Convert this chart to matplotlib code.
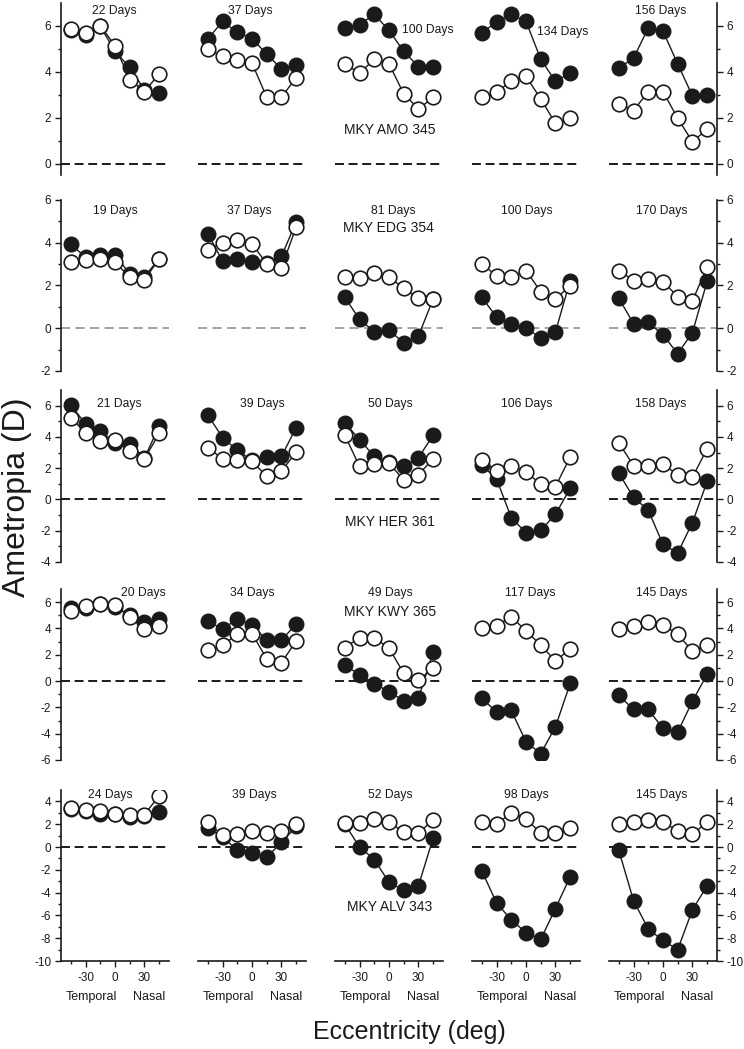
import matplotlib
matplotlib.use("Agg")
import matplotlib.pyplot as plt

plt.rcParams['font.family'] = ['Liberation Sans', 'DejaVu Sans']
plt.rcParams['axes.unicode_minus'] = False

# eccentricity of the seven measurement points (deg)
ECC = [-45, -30, -15, 0, 15, 30, 45]

# one row per monkey: age labels, open-circle and filled-circle ametropia (D)
AMO_NAME = "MKY AMO 345"
AMO_DAYS = [22, 37, 100, 134, 156]
AMO_OPEN = [
    [5.87, 5.69, 6.01, 5.14, 3.65, 3.14, 3.91],
    [4.99, 4.67, 4.53, 4.38, 2.89, 2.89, 3.75],
    [4.35, 3.94, 4.55, 4.35, 3.04, 2.38, 2.88],
    [2.89, 3.10, 3.61, 3.80, 2.82, 1.75, 1.97],
    [2.58, 2.31, 3.14, 3.14, 1.97, 0.95, 1.50],
]
AMO_FILLED = [
    [5.81, 5.62, 5.99, 4.89, 4.19, 3.21, 3.07],
    [5.43, 6.20, 5.72, 5.45, 4.77, 4.13, 4.31],
    [5.91, 6.06, 6.50, 5.81, 4.89, 4.23, 4.23],
    [5.69, 6.18, 6.50, 6.20, 4.55, 3.58, 3.94],
    [4.16, 4.60, 5.91, 5.77, 4.34, 2.95, 2.99],
]

EDG_NAME = "MKY EDG 354"
EDG_DAYS = [19, 37, 81, 100, 170]
EDG_OPEN = [
    [3.12, 3.20, 3.25, 3.09, 2.39, 2.26, 3.25],
    [3.67, 4.00, 4.11, 3.96, 3.01, 2.83, 4.74],
    [2.42, 2.35, 2.59, 2.39, 1.87, 1.41, 1.37],
    [3.00, 2.46, 2.39, 2.70, 1.71, 1.37, 1.99],
    [2.70, 2.23, 2.31, 2.18, 1.48, 1.29, 2.86],
]
EDG_FILLED = [
    [3.92, 3.33, 3.41, 3.45, 2.54, 2.42, 3.25],
    [4.43, 3.14, 3.25, 3.12, 3.05, 3.36, 4.98],
    [1.44, 0.42, -0.16, -0.09, -0.68, -0.36, 1.37],
    [1.45, 0.52, 0.22, 0.03, -0.47, -0.17, 2.23],
    [1.40, 0.22, 0.27, -0.31, -1.19, -0.20, 2.20],
]

HER_NAME = "MKY HER 361"
HER_DAYS = [21, 39, 50, 106, 158]
HER_OPEN = [
    [5.23, 4.26, 3.74, 3.83, 3.08, 2.60, 4.22],
    [3.31, 2.60, 2.54, 2.45, 1.48, 1.81, 3.03],
    [4.11, 2.11, 2.28, 2.32, 1.25, 1.59, 2.60],
    [2.50, 1.85, 2.17, 1.74, 0.99, 0.82, 2.71],
    [3.61, 2.17, 2.17, 2.24, 1.59, 1.42, 3.25],
]
HER_FILLED = [
    [6.04, 4.82, 4.37, 3.61, 3.57, 2.65, 4.69],
    [5.40, 3.96, 3.14, 2.50, 2.71, 2.75, 4.60],
    [4.90, 3.83, 2.75, 2.40, 2.11, 2.67, 4.11],
    [2.20, 1.31, -1.16, -2.13, -1.98, -0.95, 0.71],
    [1.68, 0.13, -0.69, -2.88, -3.42, -1.48, 1.16],
]

KWY_NAME = "MKY KWY 365"
KWY_DAYS = [20, 34, 49, 117, 145]
KWY_OPEN = [
    [5.29, 5.72, 5.87, 5.80, 4.86, 3.95, 4.15],
    [2.33, 2.71, 3.57, 3.60, 1.70, 1.40, 3.05],
    [2.55, 3.30, 3.30, 2.50, 0.60, 0.05, 1.00],
    [4.00, 4.20, 4.90, 3.81, 2.74, 1.52, 2.46],
    [3.98, 4.16, 4.49, 4.29, 3.55, 2.28, 2.74],
]
KWY_FILLED = [
    [5.54, 5.54, 5.87, 5.62, 5.04, 4.48, 4.71],
    [4.53, 3.97, 4.71, 4.30, 3.10, 3.10, 4.35],
    [1.20, 0.50, -0.20, -0.80, -1.50, -1.30, 2.20],
    [-1.30, -2.36, -2.23, -4.62, -5.51, -3.48, -0.18],
    [-1.09, -2.16, -2.16, -3.60, -3.88, -1.52, 0.51],
]

ALV_NAME = "MKY ALV 343"
ALV_DAYS = [24, 39, 52, 98, 145]
ALV_OPEN = [
    [3.42, 3.22, 3.13, 2.92, 2.84, 2.84, 4.50],
    [2.16, 1.02, 1.17, 1.40, 1.20, 1.40, 2.00],
    [2.10, 2.10, 2.50, 2.20, 1.30, 1.20, 2.40],
    [2.20, 2.00, 3.00, 2.50, 1.20, 1.20, 1.70],
    [2.00, 2.20, 2.40, 2.20, 1.40, 1.10, 2.20],
]
ALV_FILLED = [
    [3.30, 3.13, 2.92, 2.92, 2.63, 2.75, 3.04],
    [1.67, 0.90, -0.29, -0.50, -0.90, 0.40, 1.80],
    [2.00, 0.00, -1.10, -3.10, -3.80, -3.40, 0.80],
    [-2.10, -4.90, -6.40, -7.50, -8.10, -5.40, -2.60],
    [-0.30, -4.70, -7.20, -8.20, -9.00, -5.50, -3.40],
]

ROWS = [
    (AMO_NAME, AMO_DAYS, AMO_OPEN, AMO_FILLED),
    (EDG_NAME, EDG_DAYS, EDG_OPEN, EDG_FILLED),
    (HER_NAME, HER_DAYS, HER_OPEN, HER_FILLED),
    (KWY_NAME, KWY_DAYS, KWY_OPEN, KWY_FILLED),
    (ALV_NAME, ALV_DAYS, ALV_OPEN, ALV_FILLED),
]

# ---- layout (pixels of the 744x1049 figure) ----
W, H = 744.0, 1049.0
COL_LEFT = [61, 198, 335, 472, 609]
COL_W = 108
ROW_TOP = [3, 200, 390, 589, 790]
ROW_BOT = [175, 371, 562, 760, 961]
YLIMS = [(-0.5, 7), (-2, 6), (-4, 7), (-6, 7), (-10, 5)]
YMAJ = [[0, 2, 4, 6], [-2, 0, 2, 4, 6], [-4, -2, 0, 2, 4, 6],
        [-6, -4, -2, 0, 2, 4, 6], [-10, -8, -6, -4, -2, 0, 2, 4]]
# centre of each "NN Days" label, and of each monkey name
DAY_POS = [
    [(114, 11), (250, 11), (428, 30), (563, 32), (661, 11)],
    [(115, 211), (249, 211), (393, 211), (527, 211), (662, 211)],
    [(119, 404), (262, 404), (390, 404), (527, 404), (661, 404)],
    [(143, 593), (252, 593), (390, 593), (530, 593), (662, 593)],
    [(110, 795), (254, 795), (390, 795), (526, 795), (662, 795)],
]
NAME_POS = [(390, 130), (388, 228), (390, 522), (390, 612), (390, 907)]

INK = '#1a1a1a'
fig = plt.figure(figsize=(W / 100, H / 100), dpi=100)


def fx(px):
    return px / W


def fy(py):
    return 1 - py / H


for r, (name, days, opens, filleds) in enumerate(ROWS):
    for c in range(5):
        ax = fig.add_axes([fx(COL_LEFT[c]), fy(ROW_BOT[r]),
                           COL_W / W, (ROW_BOT[r] - ROW_TOP[r]) / H])
        ax.patch.set_alpha(0)
        ax.set_xlim(-55, 55)
        ax.set_ylim(*YLIMS[r])
        if r == 1:
            ax.axhline(0, color='#8a8a8a', lw=1.1, ls=(0, (6.0, 3.5)), zorder=1)
        else:
            ax.axhline(0, color=INK, lw=1.4, ls=(0, (4.6, 2.4)), zorder=1)

        ax.plot(ECC, filleds[c], '-o', color=INK, lw=1.0, ms=10.5,
                mfc=INK, mec=INK, mew=1.0, zorder=3)
        ax.plot(ECC, opens[c], '-o', color=INK, lw=1.0, ms=10.5,
                mfc='white', mec=INK, mew=1.2, zorder=4)

        for s in ax.spines.values():
            s.set_visible(False)
            s.set_color(INK)
            s.set_linewidth(1.2)
        ax.tick_params(which='both', direction='out', color=INK,
                       labelcolor=INK, labelsize=8.5, width=1.0, pad=3)
        ax.tick_params(which='major', length=4)
        ax.tick_params(which='minor', length=2)

        if c == 0 or c == 4:
            ax.set_yticks(YMAJ[r])
            ax.set_yticks([v + 1 for v in YMAJ[r] if v + 1 < YLIMS[r][1]],
                          minor=True)
            if c == 0:
                ax.spines['left'].set_visible(True)
            else:
                ax.spines['right'].set_visible(True)
                ax.yaxis.tick_right()
        else:
            ax.set_yticks([])

        if r == 4:
            ax.spines['bottom'].set_visible(True)
            ax.set_xticks([-30, 0, 30])
            ax.set_xticks([-45, -15, 15, 45], minor=True)
            ax.tick_params(axis='x', pad=4)
            fig.text(fx(COL_LEFT[c] + 30), fy(997), "Temporal",
                     ha='center', va='center', fontsize=9, color=INK)
            fig.text(fx(COL_LEFT[c] + 88), fy(997), "Nasal",
                     ha='center', va='center', fontsize=9, color=INK)
        else:
            ax.set_xticks([])

        px, py = DAY_POS[r][c]
        fig.text(fx(px), fy(py), f"{days[c]} Days", ha='center', va='center',
                 fontsize=8.7, color=INK)

    nx, ny = NAME_POS[r]
    fig.text(fx(nx), fy(ny), name, ha='center', va='center',
             fontsize=10, color=INK)

fig.text(fx(17), fy(497), "Ametropia (D)", rotation=90, ha='center',
         va='center', fontsize=23, color=INK)
fig.text(fx(409), fy(1032), "Eccentricity (deg)", ha='center',
         va='center', fontsize=18, color=INK)

fig.savefig("out.png", dpi=100)
